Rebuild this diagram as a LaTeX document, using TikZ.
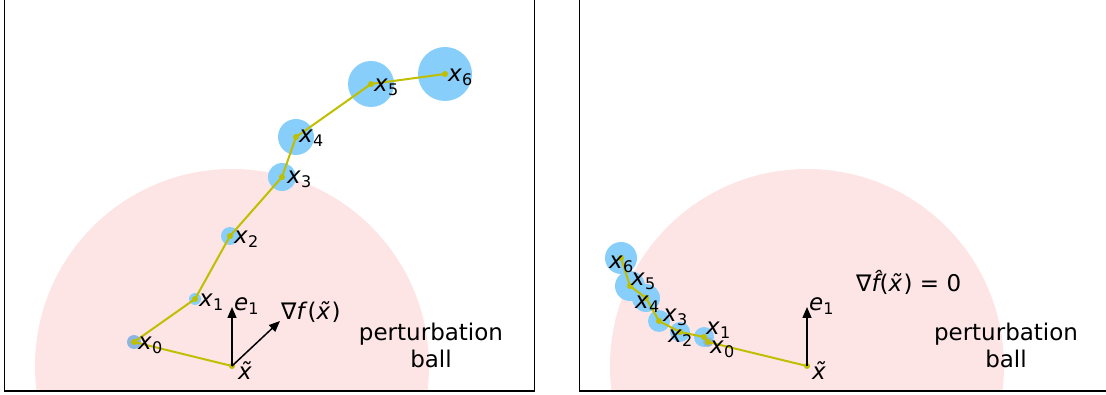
\documentclass[tikz,border=0pt]{standalone}
\usepackage{fontspec}
\setmainfont{DejaVu Sans}[ItalicFont={DejaVu Sans Oblique}]
\usetikzlibrary{arrows.meta}
\definecolor{ballpink}{RGB}{253,229,230}
\definecolor{iterblue}{RGB}{135,206,250}
\definecolor{startblue}{RGB}{140,181,227}
\definecolor{trailolive}{RGB}{191,191,0}
\newcommand{\lowidx}[1]{\raisebox{-4pt}{\fontsize{16}{16}\selectfont #1}}
\newcommand{\ix}[1]{\textit{x}\lowidx{#1}}
\newcommand{\xtil}{\textit{x̃}}
\tikzstyle{ballfill} = [fill=ballpink]
\tikzstyle{iter} = [circle, fill=iterblue, inner sep=0pt]
\tikzstyle{dot} = [circle, fill=trailolive, inner sep=0pt, minimum size=6pt]
\tikzstyle{trail} = [draw=trailolive, line width=2pt]
\tikzstyle{unitvec} = [-{Triangle[length=11pt,width=9pt]}, line width=1.5pt]
\tikzstyle{lbl} = [anchor=base west, inner sep=0pt, font=\fontsize{23}{27}\selectfont]
\tikzstyle{balltext} = [align=center, inner sep=0pt, font=\fontsize{23}{27}\selectfont]
\tikzstyle{spine} = [line width=1.2pt]

\begin{document}
\begin{tikzpicture}[x=1pt, y=-1pt]
\useasboundingbox (0,0) rectangle (1106,395);

% perturbation balls, cut at the axes
\begin{scope}
  \clip (4.5,0) rectangle (534.5,391);
  \fill[ballfill] (232,366) circle (197pt);
\end{scope}
\begin{scope}
  \clip (579.5,0) rectangle (1106,391);
  \fill[ballfill] (807,366) circle (197pt);
\end{scope}

% left: iterates leaving the ball
\coordinate (lt) at (232,366);
\node[iter, fill=startblue, minimum size=14pt] (l0) at (134,342) {};
\node[iter, minimum size=12pt] (l1) at (195,299) {};
\node[iter, minimum size=18pt] (l2) at (230,236) {};
\node[iter, minimum size=28pt] (l3) at (282,177) {};
\node[iter, minimum size=36pt] (l4) at (296,137) {};
\node[iter, minimum size=46pt] (l5) at (371,84) {};
\node[iter, minimum size=54pt] (l6) at (445,74) {};
\draw[trail] (lt) -- (l0.center) -- (l1.center) -- (l2.center) -- (l3.center)
  -- (l4.center) -- (l5.center) -- (l6.center);
\foreach \p in {lt,l0,l1,l2,l3,l4,l5,l6}
  \node[dot] at (\p) {};

% right: iterates staying inside
\coordinate (rt) at (807,366);
\node[iter, minimum size=32pt] (r6) at (621,258) {};
\node[iter, minimum size=30pt] (r5) at (630,286) {};
\node[iter, minimum size=28pt] (r4) at (646,298) {};
\node[iter, minimum size=22pt] (r3) at (659,321) {};
\node[iter, minimum size=20pt] (r2) at (680,332) {};
\node[iter, minimum size=20pt] (r1) at (704,337) {};
\node[iter, fill=startblue, minimum size=10pt] (r0) at (708,342) {};
\draw[trail] (rt) -- (r0.center) -- (r1.center) -- (r2.center) -- (r3.center)
  -- (r4.center) -- (r5.center) -- (r6.center);
\foreach \p in {rt,r0,r1,r2,r3,r4,r5,r6}
  \node[dot] at (\p) {};

% directions
\coordinate (le) at (232,307);
\coordinate (lg) at (280,321);
\coordinate (re) at (807,307);
\draw[unitvec] (lt) -- (le);
\draw[unitvec] (lt) -- (lg);
\draw[unitvec] (rt) -- (re);

% labels
\node[lbl] (lx0) at (138,350) {\ix{0}};
\node[lbl] (lx1) at (199,307) {\ix{1}};
\node[lbl] (lx2) at (234,244) {\ix{2}};
\node[lbl] (lx3) at (287,184) {\ix{3}};
\node[lbl] (lx4) at (299,143) {\ix{4}};
\node[lbl] (lx5) at (374,92) {\ix{5}};
\node[lbl] (lx6) at (448,82) {\ix{6}};
\node[lbl] (lxt) at (238,379) {\xtil};
\node[lbl] (le1) at (234,311) {\textit{e}\lowidx{1}};
\node[lbl] (lgrad) at (281,320) {∇\textit{f}(\xtil)};
\node[balltext] (lball) at (431,345) {perturbation\\ball};

\node[lbl] (rx0) at (710,353) {\ix{0}};
\node[lbl] (rx1) at (706,335) {\ix{1}};
\node[lbl] (rx2) at (668,343) {\ix{2}};
\node[lbl] (rx3) at (663,322) {\ix{3}};
\node[lbl] (rx4) at (635,309) {\ix{4}};
\node[lbl] (rx5) at (631,286) {\ix{5}};
\node[lbl] (rx6) at (609,269) {\ix{6}};
\node[lbl] (rxt) at (812,379) {\xtil};
\node[lbl] (re1) at (809,311) {\textit{e}\lowidx{1}};
\node[lbl] (rgrad) at (856,292) {∇\textit{f̂}(\xtil) = 0};
\node[balltext] (rball) at (1006,345) {perturbation\\ball};

% axes
\draw[spine] (4.5,-2) -- (4.5,391) -- (534.5,391) -- (534.5,-2);
\draw[spine] (579.5,-2) -- (579.5,391) -- (1108,391);
\end{tikzpicture}
\end{document}
